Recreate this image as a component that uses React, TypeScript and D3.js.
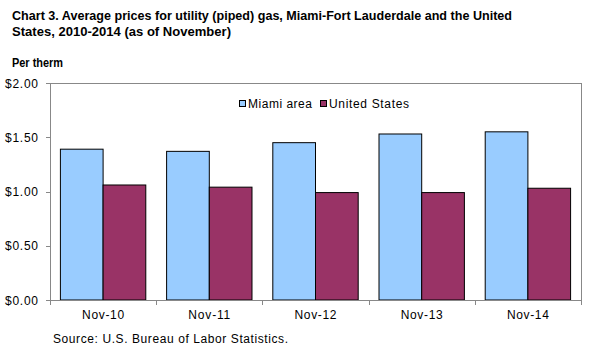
import React from "react";
import * as d3 from "d3";

const categories = ["Nov-10", "Nov-11", "Nov-12", "Nov-13", "Nov-14"];
const miami = [1.39, 1.37, 1.45, 1.53, 1.55];
const unitedStates = [1.06, 1.04, 0.99, 0.99, 1.03];
const seriesNames = ["Miami area", "United States"];
const seriesColors = ["#99CCFF", "#993366"];
const yTicks = [0, 0.5, 1.0, 1.5, 2.0];

export default function App() {
  const W = 612, H = 355;
  const left = 50, right = 581, top = 83, bottom = 300;
  const x = d3.scaleBand<string>().domain(categories).range([left, right]).paddingInner(0).paddingOuter(0);
  const y = d3.scaleLinear().domain([0, 2]).range([bottom, top]);
  const bw = x.bandwidth();
  const groupW = bw * 0.804;
  const barW = groupW / 2;
  const series = [miami, unitedStates];
  const font = "Arial, 'Liberation Sans', sans-serif";
  const legendX = [239, 320];
  const legendLen = [64, 80];

  return (
    <svg width={W} height={H} style={{ position: "absolute", left: 0, top: 0 }} fontFamily={font}>
      <rect x={0} y={0} width={W} height={H} fill="#fff" />
      <text x={12} y={20} fontSize={13} fontWeight="bold" textLength={500} lengthAdjust="spacingAndGlyphs">
        Chart 3. Average prices for utility (piped) gas, Miami-Fort Lauderdale and the United
      </text>
      <text x={12} y={36} fontSize={13} fontWeight="bold" textLength={219} lengthAdjust="spacingAndGlyphs">
        States, 2010-2014 (as of November)
      </text>
      <text x={12} y={67} fontSize={12} fontWeight="bold" textLength={51} lengthAdjust="spacingAndGlyphs">Per therm</text>

      {/* plot border */}
      <line x1={left} x2={right} y1={top + 0.5} y2={top + 0.5} stroke="#888" />
      <line x1={right + 0.5} x2={right + 0.5} y1={top} y2={bottom} stroke="#888" />

      {categories.map((c, i) =>
        series.map((s, j) => (
          <rect
            key={c + j}
            x={(x(c) as number) + (bw - groupW) / 2 + j * barW}
            y={y(s[i])}
            width={barW}
            height={bottom - y(s[i])}
            fill={seriesColors[j]}
            stroke="#000"
            strokeWidth={1}
          />
        ))
      )}

      {/* y axis */}
      <line x1={left + 0.5} x2={left + 0.5} y1={top} y2={bottom} stroke="#888" />
      {yTicks.map((t) => (
        <g key={t}>
          <line x1={left - 4} x2={left} y1={Math.round(y(t)) + 0.5} y2={Math.round(y(t)) + 0.5} stroke="#888" />
          <text x={38} y={y(t) + 4.5} fontSize={12} textAnchor="end" fill="#000" textLength={33} lengthAdjust="spacing">
            {d3.format("$.2f")(t)}
          </text>
        </g>
      ))}

      {/* x axis */}
      <line x1={left} x2={right + 1} y1={bottom + 0.5} y2={bottom + 0.5} stroke="#888" />
      {d3.range(categories.length + 1).map((k) => {
        const xx = Math.round(left + k * bw) + 0.5;
        return <line key={k} x1={xx} x2={xx} y1={bottom} y2={bottom + 5} stroke="#888" />;
      })}
      {categories.map((c) => (
        <text key={c} x={(x(c) as number) + bw / 2} y={319} fontSize={12} textAnchor="middle" textLength={42} lengthAdjust="spacing">
          {c}
        </text>
      ))}

      {/* legend */}
      {seriesNames.map((n, j) => (
        <g key={n}>
          <rect x={legendX[j] + 0.5} y={100.5} width={6} height={6} fill={seriesColors[j]} stroke="#000" />
          <text x={legendX[j] + 9} y={108} fontSize={12} textLength={legendLen[j]} lengthAdjust="spacing">{n}</text>
        </g>
      ))}

      <text x={53} y={343} fontSize={12} textLength={235} lengthAdjust="spacing">Source: U.S. Bureau of Labor Statistics.</text>
    </svg>
  );
}
